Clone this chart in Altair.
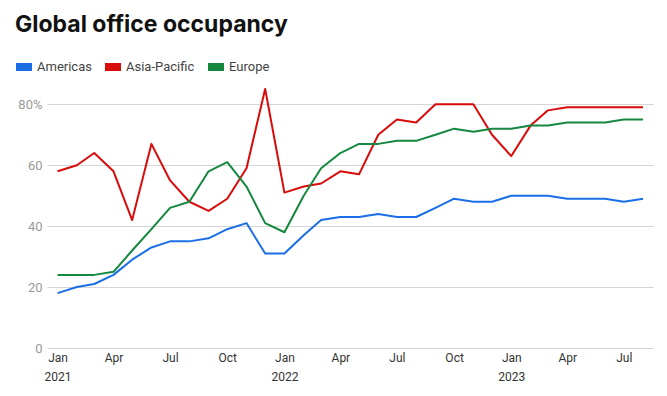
import altair as alt
import pandas as pd

months = pd.date_range("2021-01-01", "2023-08-01", freq="MS").strftime("%Y-%m-%d").tolist()

americas = [18, 20, 21, 24, 29, 33, 35, 35, 36, 39, 41, 31,
            31, 37, 42, 43, 43, 44, 43, 43, 46, 49, 48, 48,
            50, 50, 50, 49, 49, 49, 48, 49]
asia_pacific = [58, 60, 64, 58, 42, 67, 55, 48, 45, 49, 59, 85,
                51, 53, 54, 58, 57, 70, 75, 74, 80, 80, 80, 70,
                63, 73, 78, 79, 79, 79, 79, 79]
europe = [24, 24, 24, 25, 32, 39, 46, 48, 58, 61, 53, 41,
          38, 50, 59, 64, 67, 67, 68, 68, 70, 72, 71, 72,
          72, 73, 73, 74, 74, 74, 75, 75]

regions = ["Americas", "Asia-Pacific", "Europe"]
colors = ["#1a6fe6", "#d90b0b", "#14883f"]
y_ticks = [0, 20, 40, 60, 80]
tick_months = [(y, m) for y in (2021, 2022, 2023) for m in (1, 4, 7, 10) if not (y == 2023 and m == 10)]

rows = []
for name, vals in zip(regions, [americas, asia_pacific, europe]):
    for d, v in zip(months, vals):
        rows.append({"month": d, "region": name, "value": v})
df = pd.DataFrame(rows)

x_values = [alt.DateTime(year=y, month=m, date=1, utc=True) for y, m in tick_months]

chart = alt.Chart(df).mark_line(strokeWidth=2, strokeJoin="round").encode(
    x=alt.X(
        "month:T",
        scale=alt.Scale(
            type="utc",
            domain=[alt.DateTime(year=2020, month=12, date=15, utc=True),
                    alt.DateTime(year=2023, month=8, date=17, utc=True)],
            nice=False,
        ),
        axis=alt.Axis(
            title=None,
            values=x_values,
            labelExpr="utcFormat(datum.value, '%m') == '01' ? [utcFormat(datum.value, '%b'), utcFormat(datum.value, '%Y')] : utcFormat(datum.value, '%b')",
            grid=False,
            domain=False,
            ticks=False,
            labelPadding=4,
            labelFont="Roboto, sans-serif",
            labelFontSize=12,
            labelColor="#333333",
            labelLineHeight=19,
            labelBaseline="top",
        ),
    ),
    y=alt.Y(
        "value:Q",
        scale=alt.Scale(domain=[0, 86], nice=False),
        axis=alt.Axis(
            title=None,
            values=y_ticks,
            labelExpr="datum.value == 80 ? '80%' : datum.label",
            domain=False,
            ticks=False,
            labelPadding=5,
            labelFont="Roboto, sans-serif",
            labelFontSize=13,
            labelColor="#9a9a9a",
            gridColor="#d6d6d6",
            gridWidth=1,
        ),
    ),
    color=alt.Color(
        "region:N",
        scale=alt.Scale(domain=regions, range=colors),
        legend=alt.Legend(
            title=None,
            orient="none",
            direction="horizontal",
            legendX=-35,
            legendY=-31,
            symbolType="M-1,0H1",
            symbolSize=256,
            symbolStrokeWidth=8,
            symbolOpacity=1,
            labelFont="Roboto, sans-serif",
            labelFontSize=13,
            labelColor="#444444",
            labelOffset=1,
            columnPadding=-3,
        ),
    ),
).properties(
    width=606,
    height=262,
    autosize=alt.AutoSizeParams(type="none"),
    padding={"left": 39, "top": 78, "right": 4, "bottom": 40},
    title=alt.TitleParams(
        "Global office occupancy",
        anchor="start",
        frame="group",
        font="Inter, sans-serif",
        fontSize=23,
        fontWeight="bold",
        color="#111111",
        dx=-32,
        dy=-14,
    ),
).configure_view(stroke=None)

chart.save("out.html", embed_options={"renderer": "svg", "actions": False})
